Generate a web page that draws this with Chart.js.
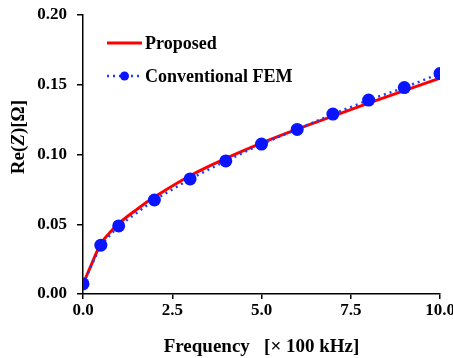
<!DOCTYPE html>
<html>
<head>
<meta charset="utf-8">
<script src="https://cdn.jsdelivr.net/npm/chart.js@4.4.1/dist/chart.umd.min.js"></script>
<style>
  html, body { margin: 0; padding: 0; background: #fff; }
  #wrap { width: 453px; height: 358px; position: relative; }
</style>
</head>
<body>
<div id="wrap"><canvas id="chart"></canvas></div>
<script>
// Frequency in units of 100 kHz
const femFreq = [0, 0.5, 1, 2, 3, 4, 5, 6, 7, 8, 9, 10];
const femRe = [0.0072, 0.035, 0.0488, 0.0674, 0.0825, 0.0954, 0.1075, 0.118, 0.129, 0.139, 0.148, 0.158];

const propFreq = [0, 0.25, 0.5, 0.75, 1, 1.5, 2, 3, 4, 5, 6, 7, 8, 9, 10];
const propRe = [0.007, 0.022, 0.036, 0.044, 0.0505, 0.0605, 0.0695, 0.0848, 0.0972, 0.1082, 0.1182, 0.1275, 0.1368, 0.1458, 0.1548];

const xTicks = [0, 2.5, 5, 7.5, 10];
const yTicks = [0, 0.05, 0.10, 0.15, 0.20];

const serif = "'Liberation Serif', 'Times New Roman', serif";

// Legend drawn inside the plot area
const innerLegend = {
  id: 'innerLegend',
  afterDraw(chart) {
    const ctx = chart.ctx;
    const left = chart.chartArea.left;
    const top = chart.chartArea.top;
    const rows = [
      { ds: chart.data.datasets[0], y: top + 28 },
      { ds: chart.data.datasets[1], y: top + 61 }
    ];
    ctx.save();
    ctx.font = 'bold 18px ' + serif;
    ctx.textBaseline = 'middle';
    rows.forEach(r => {
      const x0 = left + 24, x1 = left + 59;
      ctx.strokeStyle = r.ds.borderColor;
      ctx.lineWidth = r.ds.borderWidth;
      ctx.setLineDash(r.ds.borderDash || []);
      ctx.beginPath();
      ctx.moveTo(x0, r.y);
      ctx.lineTo(x1, r.y);
      ctx.stroke();
      ctx.setLineDash([]);
      if (r.ds.pointRadius > 0) {
        ctx.fillStyle = r.ds.pointBackgroundColor;
        ctx.beginPath();
        ctx.arc((x0 + x1) / 2, r.y, 4.5, 0, Math.PI * 2);
        ctx.fill();
      }
      ctx.fillStyle = '#000';
      ctx.fillText(r.ds.label, x1 + 3, r.y + 1);
    });
    ctx.restore();
  }
};

// Y axis title with italic Z, placed like the reference
const yTitle = {
  id: 'yTitle',
  afterDraw(chart) {
    const ctx = chart.ctx;
    const parts = [
      { t: 'Re(', f: 'bold 19px ' + serif },
      { t: 'Z', f: 'italic bold 19px ' + serif },
      { t: ')[\u03a9]', f: 'bold 19px ' + serif }
    ];
    ctx.save();
    let total = 0;
    parts.forEach(p => { ctx.font = p.f; total += ctx.measureText(p.t).width; });
    ctx.translate(19, 137);
    ctx.rotate(-Math.PI / 2);
    ctx.fillStyle = '#000';
    ctx.textBaseline = 'middle';
    let x = -total / 2;
    parts.forEach(p => {
      ctx.font = p.f;
      ctx.fillText(p.t, x, 0);
      x += ctx.measureText(p.t).width;
    });
    ctx.restore();
  }
};

new Chart(document.getElementById('chart'), {
  type: 'scatter',
  data: {
    datasets: [
      {
        label: 'Proposed',
        data: propFreq.map((f, i) => ({ x: f, y: propRe[i] })),
        showLine: true,
        borderColor: '#ff0000',
        borderWidth: 3,
        pointRadius: 0,
        tension: 0.4,
        order: 2
      },
      {
        label: 'Conventional FEM',
        data: femFreq.map((f, i) => ({ x: f, y: femRe[i] })),
        showLine: true,
        borderColor: '#1a3cff',
        borderWidth: 2.5,
        borderDash: [2, 4],
        pointRadius: 6.5,
        pointBackgroundColor: '#0a14ff',
        pointBorderWidth: 0,
        tension: 0,
        order: 1
      }
    ]
  },
  options: {
    responsive: true,
    maintainAspectRatio: false,
    animation: false,
    layout: { padding: { left: 0, right: 13, top: 15, bottom: 0 } },
    plugins: {
      legend: { display: false },
      tooltip: { enabled: false }
    },
    scales: {
      x: {
        type: 'linear',
        min: 0,
        max: 10,
        afterBuildTicks: s => { s.ticks = xTicks.map(v => ({ value: v })); },
        afterFit: s => { s.height = 64; s.paddingRight = 0; s.paddingLeft = 0; },
        grid: { display: true, drawOnChartArea: false, drawTicks: true, tickLength: 5, color: '#000', lineWidth: 1.5 },
        border: { display: true, color: '#000', width: 1.5 },
        ticks: {
          color: '#000',
          padding: 1,
          maxRotation: 0,
          font: { family: serif, size: 17, weight: 'bold' },
          callback: v => v.toFixed(1)
        },
        title: {
          display: true,
          text: 'Frequency   [\u00d7 100 kHz]',
          color: '#000',
          padding: { top: 9, bottom: 0 },
          font: { family: serif, size: 19, weight: 'bold' }
        }
      },
      y: {
        type: 'linear',
        min: 0,
        max: 0.2,
        afterBuildTicks: s => { s.ticks = yTicks.map(v => ({ value: v })); },
        afterFit: s => { s.width = 83; s.paddingTop = 0; s.paddingBottom = 0; },
        grid: { display: true, drawOnChartArea: false, drawTicks: true, tickLength: 6, color: '#000', lineWidth: 1.5 },
        border: { display: true, color: '#000', width: 1.5 },
        ticks: {
          color: '#000',
          padding: 10,
          font: { family: serif, size: 17, weight: 'bold' },
          callback: v => v.toFixed(2)
        }
      }
    }
  },
  plugins: [innerLegend, yTitle]
});
</script>
</body>
</html>
